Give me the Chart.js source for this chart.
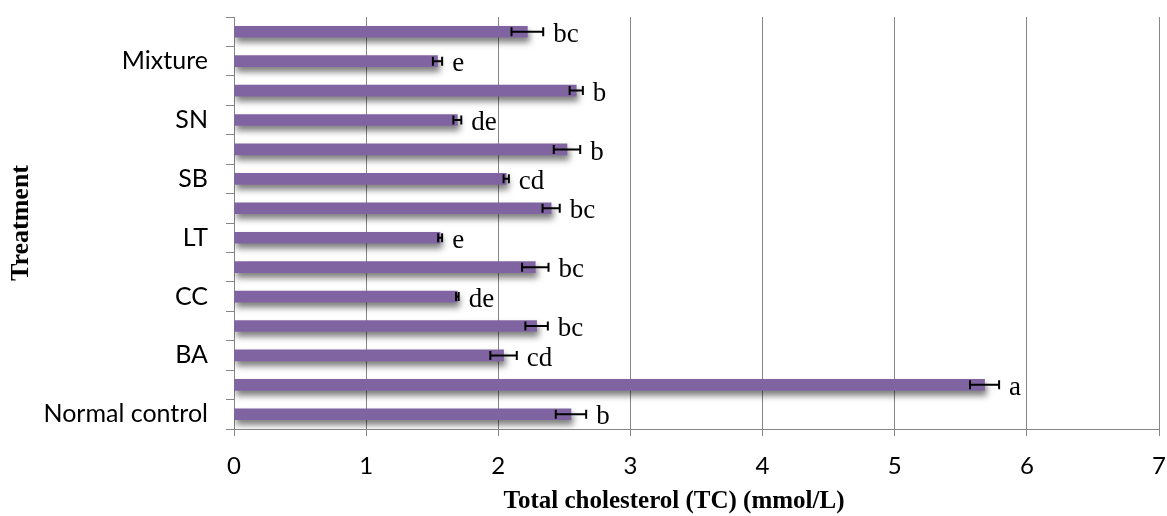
<!DOCTYPE html>
<html>
<head>
<meta charset="utf-8">
<script src="https://cdn.jsdelivr.net/npm/chart.js@4.4.0/dist/chart.umd.min.js"></script>
<style>
    html, body { margin: 0; padding: 0; background: #fff; }
</style>
</head>
<body>
<canvas id="myChart" width="1167" height="516"></canvas>
<script>
// listed bottom to top, like the original figure
let categories = ['Normal control', '', 'BA', '', 'CC', '', 'LT', '', 'SB', '', 'SN', '', 'Mixture', ''];
let tcMeans = [2.55, 5.68, 2.04, 2.29, 1.69, 2.28, 1.56, 2.40, 2.06, 2.52, 1.69, 2.59, 1.54, 2.22];
let tcErrors = [0.115, 0.11, 0.10, 0.085, 0.01, 0.10, 0.015, 0.065, 0.02, 0.10, 0.03, 0.05, 0.035, 0.12];
let groupLetters = ['b', 'a', 'cd', 'bc', 'de', 'bc', 'e', 'bc', 'cd', 'b', 'de', 'b', 'e', 'bc'];
let xTicks = [0, 1, 2, 3, 4, 5, 6, 7];

let axisGray = '#868686';

// soft drop shadow under the bars
let barShadow = {
    id: 'barShadow',
    beforeDatasetsDraw(chart) {
        let ctx = chart.ctx;
        ctx.save();
        ctx.shadowColor = 'rgba(0, 0, 0, 0.5)';
        ctx.shadowBlur = 6;
        ctx.shadowOffsetX = 2;
        ctx.shadowOffsetY = 5;
    },
    afterDatasetsDraw(chart) {
        chart.ctx.restore();
    }
};

// error bars + letters of significance
let errorBars = {
    id: 'errorBars',
    afterDatasetsDraw(chart) {
        let ctx = chart.ctx;
        let xs = chart.scales.x;
        let meta = chart.getDatasetMeta(0);
        ctx.save();
        ctx.strokeStyle = '#000';
        ctx.lineWidth = 2;
        meta.data.forEach(function (bar, i) {
            let y = bar.y;
            let x1 = xs.getPixelForValue(tcMeans[i] - tcErrors[i]);
            let x2 = xs.getPixelForValue(tcMeans[i] + tcErrors[i]);
            ctx.beginPath();
            ctx.moveTo(x1, y);
            ctx.lineTo(x2, y);
            ctx.moveTo(x1, y - 4.5);
            ctx.lineTo(x1, y + 4.5);
            ctx.moveTo(x2, y - 4.5);
            ctx.lineTo(x2, y + 4.5);
            ctx.stroke();

            ctx.fillStyle = '#000';
            ctx.font = '27px "Liberation Serif"';
            ctx.textAlign = 'left';
            ctx.textBaseline = 'middle';
            ctx.fillText(groupLetters[i], x2 + 10, y + 3);
        });
        ctx.restore();
    }
};

// x title, placed like in the figure (a bit left of the plot centre)
let xTitle = {
    id: 'xTitle',
    afterDraw(chart) {
        let ctx = chart.ctx;
        ctx.save();
        ctx.fillStyle = '#000';
        ctx.font = 'bold 25px "Liberation Serif"';
        ctx.textAlign = 'center';
        ctx.textBaseline = 'middle';
        ctx.fillText('Total cholesterol (TC) (mmol/L)', 674, 502);
        ctx.restore();
    }
};

let ctx = document.getElementById('myChart').getContext('2d');
let chart = new Chart(ctx, {
    type: 'bar',
    data: {
        labels: categories,
        datasets: [{
            data: tcMeans,
            backgroundColor: '#8064A2',
            borderWidth: 0,
            barThickness: 11
        }]
    },
    options: {
        indexAxis: 'y',
        responsive: false,
        animation: false,
        layout: { padding: { top: 17, right: 8, bottom: 0, left: 0 } },
        plugins: {
            legend: { display: false },
            tooltip: { enabled: false }
        },
        scales: {
            x: {
                min: 0,
                max: 7,
                afterBuildTicks: function (scale) {
                    scale.ticks = xTicks.map(v => ({ value: v }));
                },
                ticks: {
                    color: '#000',
                    font: { family: 'Lato', size: 24, lineHeight: 1.2 },
                    padding: 16
                },
                grid: { color: axisGray, lineWidth: 1, tickLength: 7 },
                border: { color: axisGray, width: 1 },
                afterFit: function (scale) {
                    scale.height = 87;
                    scale.paddingLeft = 0;
                    scale.paddingRight = 0;
                }
            },
            y: {
                reverse: true,
                grid: {
                    drawOnChartArea: false,
                    drawTicks: true,
                    tickLength: 8,
                    color: axisGray,
                    offset: true
                },
                border: { color: axisGray, width: 1 },
                ticks: {
                    color: '#000',
                    font: { family: 'Lato', size: 25, lineHeight: 1.2 },
                    padding: 18,
                    autoSkip: false
                },
                title: {
                    display: true,
                    text: 'Treatment',
                    color: '#000',
                    font: { family: 'Liberation Serif', size: 26, weight: 'bold' },
                    padding: { top: 6, bottom: 0 }
                },
                afterFit: function (scale) {
                    scale.width = 234;
                    scale.paddingTop = 0;
                    scale.paddingBottom = 0;
                }
            }
        }
    },
    plugins: [barShadow, errorBars, xTitle]
});
</script>
</body>
</html>
